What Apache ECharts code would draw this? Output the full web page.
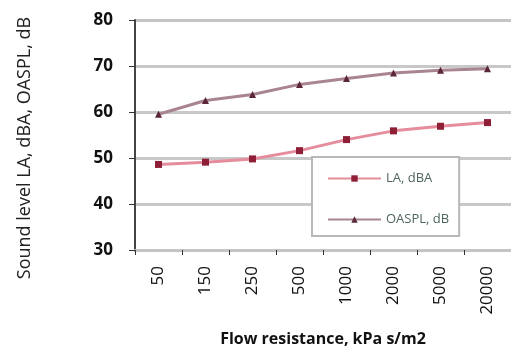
<!DOCTYPE html>
<html>
<head>
<meta charset="utf-8">
<script src="https://cdn.jsdelivr.net/npm/echarts@6/dist/echarts.min.js"></script>
<style>
html,body{margin:0;padding:0;background:#fff;}
#chart{width:511px;height:352px;}
</style>
</head>
<body>
<div id="chart"></div>
<script>
// 数据
var categories = ['50', '150', '250', '500', '1000', '2000', '5000', '20000'];
var laValues = [48.6, 49.1, 49.8, 51.6, 54.0, 55.9, 56.9, 57.7];
var oasplValues = [59.5, 62.5, 63.8, 66.0, 67.3, 68.5, 69.1, 69.4];
var seriesNames = ['LA, dBA', 'OASPL, dB'];
var yTicks = [30, 40, 50, 60, 70, 80];

var myChart = echarts.init(document.getElementById('chart'));
var option = {
    backgroundColor: '#fff',
    animation: false,
    grid: {
        left: 135,
        right: 0,
        top: 20,
        bottom: 100
    },
    legend: {
        orient: 'vertical',
        left: 312,
        top: 157,
        padding: [15, 10, 10, 15],
        itemGap: 28,
        itemWidth: 53,
        itemHeight: 8,
        itemStyle: {borderWidth: 0},
        borderColor: '#b8b8b8',
        borderWidth: 2,
        backgroundColor: '#fff',
        textStyle: {
            fontFamily: 'Open Sans',
            fontSize: 13,
            color: '#4f6660'
        },
        data: seriesNames
    },
    xAxis: {
        type: 'category',
        data: categories,
        boundaryGap: true,
        name: 'Flow resistance, kPa s/m2',
        nameLocation: 'middle',
        nameGap: 81,
        nameTextStyle: {
            fontFamily: 'Open Sans',
            fontSize: 16,
            fontWeight: 'bold',
            color: '#111'
        },
        axisLine: {lineStyle: {color: '#c4c4c4', width: 3}},
        axisTick: {show: true, length: 5, lineStyle: {color: '#333', width: 1}},
        axisLabel: {
            rotate: 90,
            margin: 16,
            fontFamily: 'Open Sans',
            fontSize: 17,
            color: '#111'
        }
    },
    yAxis: {
        type: 'value',
        min: yTicks[0],
        max: yTicks[yTicks.length - 1],
        interval: 10,
        name: 'Sound level LA, dBA, OASPL, dB',
        nameLocation: 'middle',
        nameGap: 101,
        nameTextStyle: {
            fontFamily: 'Open Sans',
            fontSize: 18,
            color: '#222',
            padding: [0, 26, 0, 0]
        },
        axisLine: {show: true, lineStyle: {color: '#444', width: 2}},
        axisTick: {show: true, length: 6, lineStyle: {color: '#333', width: 1}},
        axisLabel: {
            margin: 22,
            fontFamily: 'Open Sans',
            fontSize: 17,
            fontWeight: 'bold',
            color: '#111'
        },
        splitLine: {
            show: true,
            lineStyle: {
                color: ['#c8c8c8', '#c8c8c8', '#c8c8c8', '#c8c8c8', '#c8c8c8', '#c4c4c4'],
                width: 3
            }
        }
    },
    series: [{
        name: seriesNames[0],
        type: 'line',
        data: laValues,
        symbol: 'rect',
        symbolSize: 7,
        lineStyle: {color: '#e58d9c', width: 3},
        itemStyle: {color: '#8e1f36'}
    }, {
        name: seriesNames[1],
        type: 'line',
        data: oasplValues,
        symbol: 'triangle',
        symbolSize: 7,
        lineStyle: {color: '#a8858f', width: 3},
        itemStyle: {color: '#5b2636'}
    }]
};
myChart.setOption(option);
</script>
</body>
</html>
